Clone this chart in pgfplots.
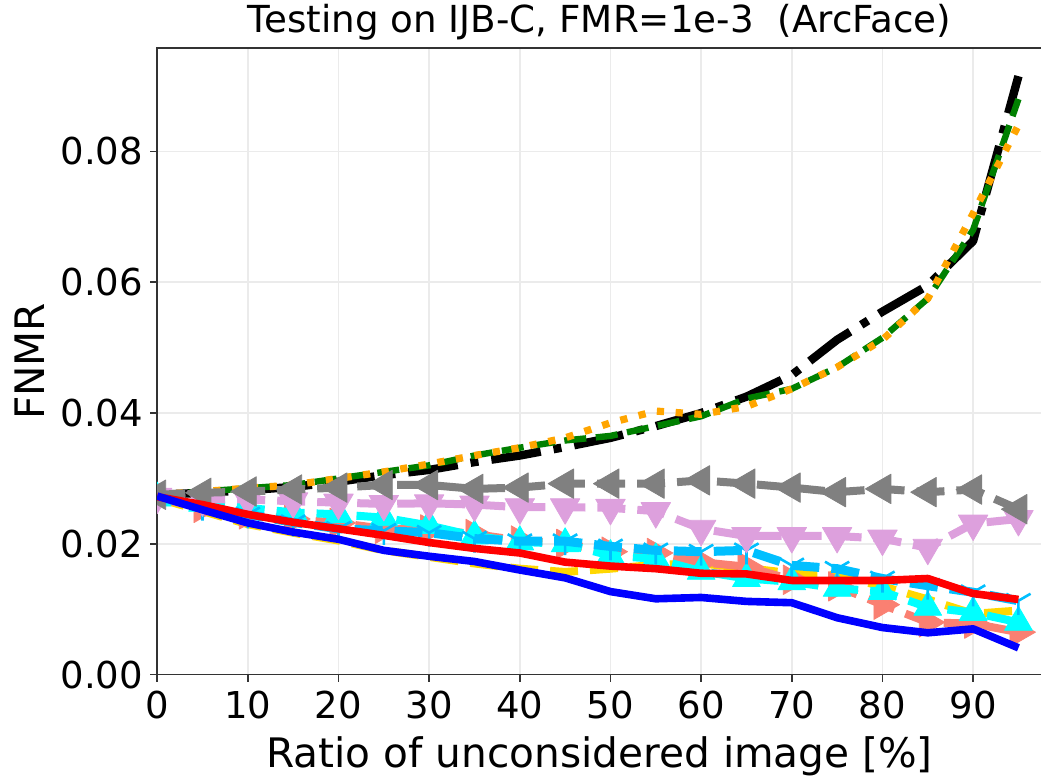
\documentclass[border=0pt]{standalone}
\usepackage{fontspec}
\setmainfont{DejaVu Sans}
\usepackage{pgfplots}
\usepackage{pgfplotstable}
\pgfplotsset{compat=1.18}
\usetikzlibrary{calc}

\definecolor{cgreen}{HTML}{008000}
\definecolor{corange}{HTML}{FFA500}
\definecolor{cgray}{HTML}{808080}
\definecolor{cplum}{HTML}{DDA0DD}
\definecolor{csky}{HTML}{00BFFF}
\definecolor{ccyan}{HTML}{00FFFF}
\definecolor{csalmon}{HTML}{FA8072}
\definecolor{cgold}{HTML}{FFD700}
\definecolor{cgrid}{HTML}{EBEBEB}

% matplotlib "1" marker (tri_down)
\pgfdeclareplotmark{tridown}{%
  \pgfpathmoveto{\pgfpointorigin}\pgfpathlineto{\pgfpoint{0pt}{-\pgfplotmarksize}}%
  \pgfpathmoveto{\pgfpointorigin}\pgfpathlineto{\pgfpointpolar{30}{\pgfplotmarksize}}%
  \pgfpathmoveto{\pgfpointorigin}\pgfpathlineto{\pgfpointpolar{150}{\pgfplotmarksize}}%
  \pgfusepathqstroke}

\pgfplotstableread{
x  black  green  orange gold   salmon cyan   sky    plum   gray   red    blue
0  .0275  .0275  .0275  .0270  .0270  .0270  .0272  .0272  .0275  .0272  .0273
5  .0278  .0280  .0280  .0250  .0255  .0262  .0257  .0268  .0278  .0260  .0252
10 .0282  .0285  .0285  .0230  .0245  .0255  .0245  .0268  .0280  .0245  .0232
15 .0287  .0290  .0290  .0217  .0238  .0248  .0233  .0265  .0283  .0233  .0218
20 .0295  .0300  .0300  .0205  .0232  .0245  .0223  .0263  .0286  .0223  .0207
25 .0305  .0310  .0310  .0190  .0223  .0240  .0220  .0261  .0290  .0213  .0190
30 .0313  .0320  .0322  .0180  .0222  .0228  .0217  .0262  .0290  .0202  .0181
35 .0325  .0335  .0335  .0170  .0215  .0212  .0208  .0260  .0284  .0193  .0173
40 .0335  .0347  .0347  .0162  .0205  .0203  .0204  .0256  .0286  .0186  .0160
45 .0348  .0358  .0362  .0157  .0200  .0200  .0204  .0256  .0292  .0172  .0148
50 .0362  .0365  .0385  .0162  .0188  .0182  .0196  .0255  .0292  .0166  .0127
55 .0380  .0380  .0403  .0168  .0186  .0177  .0190  .0250  .0292  .0162  .0116
60 .0400  .0395  .0398  .0170  .0172  .0158  .0188  .0223  .0297  .0155  .0118
65 .0425  .0422  .0410  .0163  .0165  .0147  .0190  .0212  .0292  .0154  .0112
70 .0458  .0437  .0437  .0155  .0145  .0142  .0167  .0212  .0286  .0144  .0110
75 .0512  .0470  .0470  .0152  .0135  .0132  .0162  .0212  .0279  .0144  .0087
80 .0555  .0515  .0512  .0135  .0107  .0127  .0147  .0208  .0284  .0144  .0072
85 .0595  .0575  .0575  .0115  .0080  .0103  .0136  .0194  .0279  .0147  .0064
90 .0663  .0680  .0705  .0093  .0078  .0095  .0126  .0231  .0283  .0124  .0070
95 .0915  .0880  .0840  .0098  .0065  .0080  .0113  .0238  .0253  .0115  .0041
}\data

\begin{document}
\begin{tikzpicture}
\begin{axis}[
  name=ax,
  scale only axis, width=442pt, height=313pt,
  xmin=0, xmax=97.6, ymin=0, ymax=0.0958,
  xtick={0,10,20,30,40,50,60,70,80,90},
  ytick={0,0.02,0.04,0.06,0.08},
  scaled y ticks=false,
  yticklabel style={/pgf/number format/.cd, fixed, fixed zerofill, precision=2},
  /pgf/number format/assume math mode=true,
  tick label style={font=\fontsize{18.5}{20}\selectfont},
  xticklabel style={yshift=-1pt},
  xtick pos=bottom, ytick pos=left,
  tick align=outside, major tick length=3.5pt,
  major tick style={black!80, line width=0.8pt},
  axis line style={black!80, line width=0.8pt},
  grid=major, grid style={cgrid, line width=0.8pt},
  clip marker paths=true,
  title={Testing on IJB-C, FMR=1e-3\ \ (ArcFace)},
  title style={font=\fontsize{18.6}{20}\selectfont, at={(0.5,1.005)}, anchor=base},
  xlabel={Ratio of unconsidered image [\%]},
  xlabel style={font=\fontsize{20.3}{22}\selectfont, at={(0.5,-0.1486)}, anchor=base},
  ylabel={FNMR},
  ylabel style={font=\fontsize{20.3}{22}\selectfont, at={(-0.1275,0.5)}, anchor=base},
  every axis plot/.append style={line join=round},
]
\addplot[black, line width=4.2pt, dash pattern=on 25pt off 6.5pt on 4pt off 6.5pt] table[x=x, y=black] {\data};
\addplot[cgreen, line width=3.2pt, dash pattern=on 11pt off 4.8pt] table[x=x, y=green] {\data};
\addplot[corange, line width=3.6pt, dash pattern=on 3.6pt off 5.8pt] table[x=x, y=orange] {\data};
\addplot[cgold, line width=4pt, dash pattern=on 14pt off 6pt] table[x=x, y=gold] {\data};
\addplot[csalmon, line width=4pt, dash pattern=on 14pt off 6pt,
  mark=triangle*, mark size=8.5pt, mark options={solid, rotate=-90, fill=csalmon, draw=csalmon, line width=0.4pt}]
  table[x=x, y=salmon] {\data};
\addplot[ccyan, line width=4pt, dash pattern=on 14pt off 6pt,
  mark=triangle*, mark size=8pt, mark options={solid, fill=ccyan, draw=ccyan, line width=0.4pt}]
  table[x=x, y=cyan] {\data};
\addplot[csky, line width=4.5pt, dash pattern=on 14pt off 6pt,
  mark=tridown, mark size=7pt, mark options={solid, line width=1.3pt}]
  table[x=x, y=sky] {\data};
\addplot[cplum, line width=4pt, dash pattern=on 14pt off 6pt,
  mark=triangle*, mark size=8.5pt, mark options={solid, rotate=180, fill=cplum, draw=cplum, line width=0.4pt}]
  table[x=x, y=plum] {\data};
\addplot[cgray, line width=4pt, dash pattern=on 14pt off 6pt,
  mark=triangle*, mark size=8.5pt, mark options={solid, rotate=90, fill=cgray, draw=cgray, line width=0.4pt}]
  table[x=x, y=gray] {\data};
\addplot[red, line width=3.8pt] table[x=x, y=red] {\data};
\addplot[blue, line width=3.8pt] table[x=x, y=blue] {\data};
\end{axis}
\pgfresetboundingbox
\path ($(ax.south west)+(-78.5pt,-50.5pt)$) rectangle ($(ax.north east)+(-0.5pt,24pt)$);
\end{tikzpicture}
\end{document}
